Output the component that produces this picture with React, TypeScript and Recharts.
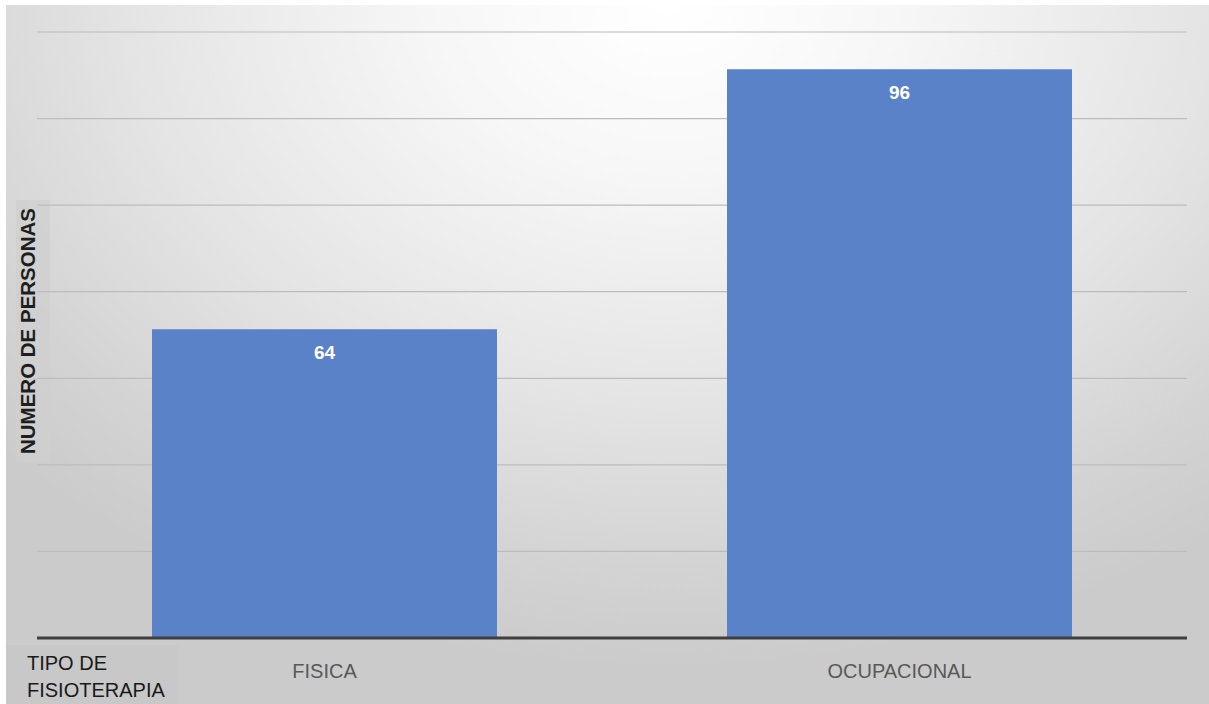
import React from "react";
import { BarChart, Bar, XAxis, YAxis, CartesianGrid, LabelList } from "recharts";

const categories = ["FISICA", "OCUPACIONAL"];
const personas = [64, 96];
const gridTicks = [26, 36.66, 47.31, 57.97, 68.63, 79.29, 89.94, 100.6];
const yTitle = "NUMERO DE PERSONAS";
const xTitleLines = ["TIPO DE", "FISIOTERAPIA"];

const data = categories.map((c, i) => ({ name: c, value: personas[i] }));

const FONT = "'Liberation Sans', Arial, sans-serif";

const XTick = (props: any) => {
  const { x, y, payload } = props;
  return (
    <text x={x} y={y + 32} textAnchor="middle" fontSize={20} fill="#595959" fontFamily={FONT}>
      {payload.value}
    </text>
  );
};

export default function App() {
  return (
    <div style={{ position: "absolute", left: 0, top: 0, width: 1209, height: 704, background: "#ffffff" }}>
      <div
        style={{
          position: "absolute",
          left: 6,
          top: 5,
          width: 1203,
          height: 699,
          background:
            "radial-gradient(ellipse 75% 95% at 55% 0%, #ffffff 0%, #f7f7f7 25%, #e4e4e4 60%, #d3d3d3 85%, #cbcbcb 100%)",
        }}
      >
        <svg width={1203} height={699} style={{ position: "absolute", left: 0, top: 0 }}>
          <rect x={10} y={195} width={34} height={262} fill="#cfcfcf" opacity={0.75} />
          <rect x={0} y={640} width={172} height={59} fill="#c6c6c6" opacity={0.65} />
        </svg>
        <div style={{ position: "absolute", left: 0, top: 0 }}>
          <BarChart
            width={1203}
            height={699}
            data={data}
            margin={{ top: 27, right: 22, bottom: 36, left: 31 }}
            barCategoryGap="20%"
          >
            <CartesianGrid vertical={false} stroke="#bcbcbc" strokeWidth={1.2} />
            <YAxis hide domain={[26, 100.6]} ticks={gridTicks} allowDataOverflow />
            <XAxis
              dataKey="name"
              height={30}
              axisLine={{ stroke: "#3f3f3f", strokeWidth: 3 }}
              tickLine={false}
              tick={<XTick />}
              interval={0}
            />
            <Bar dataKey="value" fill="#5a82c8" isAnimationActive={false}>
              <LabelList
                dataKey="value"
                position="insideTop"
                offset={16}
                fill="#ffffff"
                fontSize={19}
                fontWeight="bold"
                fontFamily={FONT}
              />
            </Bar>
          </BarChart>
        </div>
        <svg width={1203} height={699} style={{ position: "absolute", left: 0, top: 0, pointerEvents: "none" }}>
          <text
            transform="translate(21, 326) rotate(-90)"
            textAnchor="middle"
            dominantBaseline="central"
            fontSize={20.5}
            fontWeight="bold"
            fill="#1e1e1e"
            fontFamily={FONT}
          >
            {yTitle}
          </text>
          <text x={21} y={665} fontSize={20} fill="#1a1a1a" fontFamily={FONT}>
            {xTitleLines[0]}
          </text>
          <text x={21} y={692} fontSize={20} fill="#1a1a1a" fontFamily={FONT}>
            {xTitleLines[1]}
          </text>
        </svg>
      </div>
    </div>
  );
}
